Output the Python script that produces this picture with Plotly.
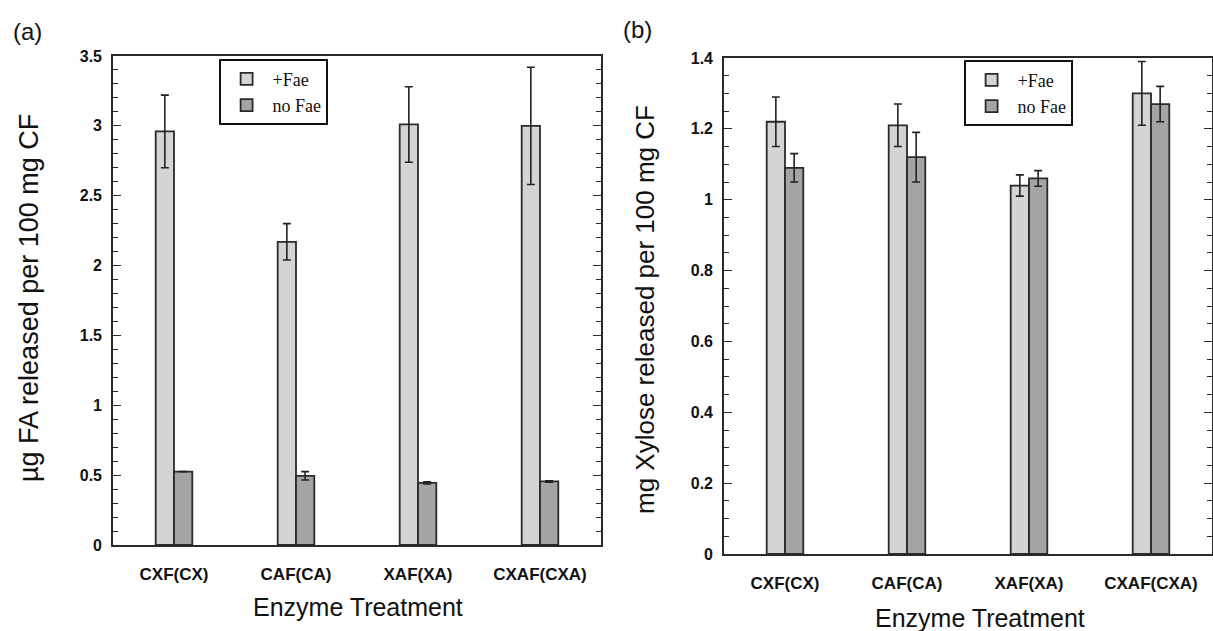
import plotly.graph_objects as go

categories = ["CXF(CX)", "CAF(CA)", "XAF(XA)", "CXAF(CXA)"]

# Panel (a): ug FA released per 100 mg CF
fa_fae = [2.96, 2.17, 3.01, 3.00]
fa_fae_err = [0.26, 0.13, 0.27, 0.42]
fa_nofae = [0.525, 0.495, 0.445, 0.455]
fa_nofae_err = [0.0, 0.03, 0.008, 0.005]

# Panel (b): mg Xylose released per 100 mg CF
xy_fae = [1.22, 1.21, 1.04, 1.30]
xy_fae_err = [0.07, 0.06, 0.03, 0.09]
xy_nofae = [1.09, 1.12, 1.06, 1.27]
xy_nofae_err = [0.04, 0.07, 0.022, 0.05]

series_names = ["+Fae", "no Fae"]
colors = ["#d4d4d4", "#a4a4a4"]

W, H = 1213, 631
SANS = "Liberation Sans, Arial, sans-serif"
SERIF = "Liberation Serif, Times New Roman, serif"
LINE = "#2a2a2a"


def px(x):
    return x / W


def py(y):
    return 1 - y / H


fig = go.Figure()


def add_bars(vals, errs, name, color, xa, ya, legend):
    fig.add_trace(go.Bar(
        x=categories, y=vals, name=name, xaxis=xa, yaxis=ya, legend=legend,
        marker=dict(color=color, line=dict(color=LINE, width=1.8)),
        error_y=dict(type="data", array=errs, visible=True, color="#222222",
                     thickness=1.6, width=4),
        showlegend=True,
    ))


add_bars(fa_fae, fa_fae_err, series_names[0], colors[0], "x", "y", "legend")
add_bars(fa_nofae, fa_nofae_err, series_names[1], colors[1], "x", "y", "legend")
add_bars(xy_fae, xy_fae_err, series_names[0], colors[0], "x2", "y2", "legend2")
add_bars(xy_nofae, xy_nofae_err, series_names[1], colors[1], "x2", "y2", "legend2")

xcommon = dict(type="category", range=[-0.5, 3.5], showline=True, mirror=True,
               linecolor=LINE, linewidth=1.6, ticks="", showgrid=False,
               zeroline=False, ticklabelstandoff=13, automargin=False,
               tickfont=dict(family=SANS, size=17, color="#111", weight="bold"))
ycommon = dict(showline=True, mirror="ticks", linecolor=LINE, linewidth=1.6,
               ticks="inside", ticklen=8, tickwidth=1.4, tickcolor=LINE,
               showgrid=False, zeroline=False, ticklabelstandoff=6,
               automargin=False,
               tickfont=dict(family=SANS, size=16, color="#111", weight="bold"))

legend_common = dict(xanchor="left", yanchor="top", bgcolor="white",
                     bordercolor="#111", borderwidth=1.6,
                     font=dict(family=SERIF, size=18, color="#111"),
                     tracegroupgap=0, itemwidth=42)

fig.update_layout(
    width=W, height=H, autosize=False,
    margin=dict(l=0, r=0, t=0, b=0, pad=0),
    paper_bgcolor="white", plot_bgcolor="white",
    barmode="group", bargap=0.7, bargroupgap=0,
    xaxis=dict(domain=[px(113), px(601)], anchor="y", **xcommon),
    yaxis=dict(domain=[py(545), py(56)], anchor="x", range=[0, 3.5], dtick=0.5,
               minor=dict(dtick=0.1, ticks="inside", ticklen=5, tickwidth=1.2,
                          tickcolor=LINE, showgrid=False),
               **ycommon),
    xaxis2=dict(domain=[px(724), px(1212)], anchor="y2", **xcommon),
    yaxis2=dict(domain=[py(554), py(58)], anchor="x2", range=[0, 1.4], dtick=0.2,
                minor=dict(dtick=0.05, ticks="inside", ticklen=5, tickwidth=1.2,
                           tickcolor=LINE, showgrid=False),
                **ycommon),
    legend=dict(x=px(219), y=py(59), **legend_common),
    legend2=dict(x=px(964), y=py(60), **legend_common),
    showlegend=True,
)

annos = [
    dict(text="(a)", x=px(27), y=py(31), size=24),
    dict(text="(b)", x=px(637), y=py(29), size=24),
    dict(text="µg FA released per 100 mg CF", x=px(29), y=py(298), size=27, angle=-90),
    dict(text="mg Xylose released per 100 mg CF", x=px(645), y=py(310), size=26, angle=-90),
    dict(text="Enzyme Treatment", x=px(358), y=py(607), size=25),
    dict(text="Enzyme Treatment", x=px(980), y=py(618), size=25),
]
for a in annos:
    fig.add_annotation(text=a["text"], x=a["x"], y=a["y"], xref="paper", yref="paper",
                       xanchor="center", yanchor="middle", showarrow=False,
                       textangle=a.get("angle", 0),
                       font=dict(family=SANS, size=a["size"], color="#111"))

fig.write_html("out.html")
